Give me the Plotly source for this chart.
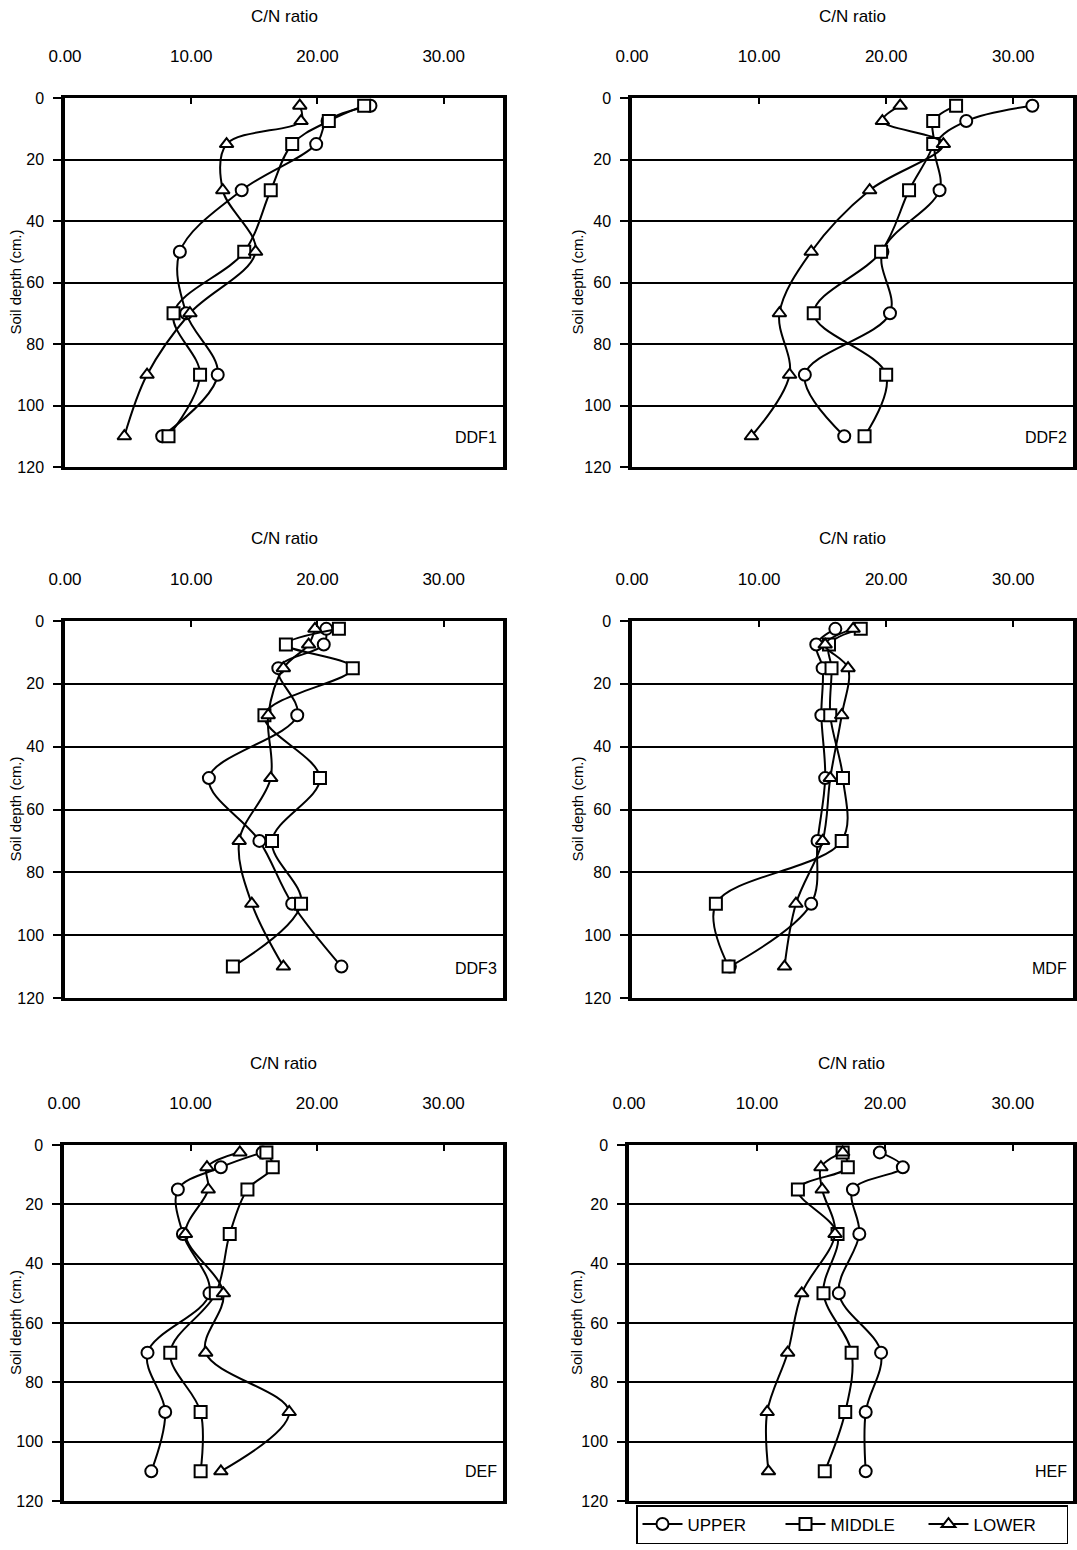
import plotly.graph_objects as go

W, H = 1077, 1550

depths = [2.5, 7.5, 15, 30, 50, 70, 90, 110]
panels = ["DDF1", "DDF2", "DDF3", "MDF", "DEF", "HEF"]

ddf1_upper = [24.2, 20.8, 19.9, 14.0, 9.1, 9.6, 12.1, 7.7]
ddf1_middle = [23.7, 20.9, 18.0, 16.3, 14.2, 8.6, 10.7, 8.2]
ddf1_lower = [18.6, 18.7, 12.8, 12.5, 15.1, 9.9, 6.5, 4.7]

ddf2_upper = [31.5, 26.3, 23.9, 24.2, 19.7, 20.3, 13.6, 16.7]
ddf2_middle = [25.5, 23.7, 23.7, 21.8, 19.6, 14.3, 20.0, 18.3]
ddf2_lower = [21.1, 19.7, 24.5, 18.7, 14.1, 11.6, 12.4, 9.4]

ddf3_upper = [20.7, 20.5, 16.9, 18.4, 11.4, 15.4, 18.0, 21.9]
ddf3_middle = [21.7, 17.5, 22.8, 15.8, 20.2, 16.4, 18.7, 13.3]
ddf3_lower = [19.8, 19.3, 17.3, 16.1, 16.3, 13.8, 14.8, 17.3]

mdf_upper = [16.0, 14.5, 15.0, 14.9, 15.2, 14.6, 14.1, 7.7]
mdf_middle = [18.0, 15.5, 15.7, 15.6, 16.6, 16.5, 6.6, 7.6]
mdf_lower = [17.4, 15.2, 17.0, 16.5, 15.6, 15.0, 12.9, 12.0]

def_upper = [15.7, 12.4, 9.0, 9.4, 11.5, 6.6, 8.0, 6.9]
def_middle = [16.0, 16.5, 14.5, 13.1, 12.0, 8.4, 10.8, 10.8]
def_lower = [13.9, 11.3, 11.4, 9.6, 12.6, 11.2, 17.8, 12.4]

hef_upper = [19.6, 21.4, 17.5, 18.0, 16.4, 19.7, 18.5, 18.5]
hef_middle = [16.7, 17.1, 13.2, 16.3, 15.2, 17.4, 16.9, 15.3]
hef_lower = [16.7, 15.0, 15.1, 16.1, 13.5, 12.4, 10.8, 10.9]

series_names = ["UPPER", "MIDDLE", "LOWER"]
symbols = ["circle", "square", "triangle-up"]
x_ticks = [0, 10, 20, 30]
x_ticklabels = ["0.00", "10.00", "20.00", "30.00"]
y_ticks = [0, 20, 40, 60, 80, 100, 120]

data = [
    (ddf1_upper, ddf1_middle, ddf1_lower),
    (ddf2_upper, ddf2_middle, ddf2_lower),
    (ddf3_upper, ddf3_middle, ddf3_lower),
    (mdf_upper, mdf_middle, mdf_lower),
    (def_upper, def_middle, def_lower),
    (hef_upper, hef_middle, hef_lower),
]

# pixel boxes (left, right, top, bottom)
boxes = [
    (65, 503, 98, 467),
    (632, 1073, 98, 467),
    (65, 503, 621, 998),
    (632, 1073, 621, 998),
    (64, 503, 1145, 1501),
    (629, 1073, 1145, 1501),
]
ytitle_x = [15, 577, 15, 577, 15, 576]

FONT = "Liberation Sans, Arial, sans-serif"
fig = go.Figure()
annotations = []

for i, (name, vals, box) in enumerate(zip(panels, data, boxes)):
    l, r, t, b = box
    xa = "x" if i == 0 else f"x{i+1}"
    ya = "y" if i == 0 else f"y{i+1}"
    for k, (sname, sym, v) in enumerate(zip(series_names, symbols, vals)):
        fig.add_trace(go.Scatter(
            x=v, y=depths, xaxis=xa, yaxis=ya,
            mode="lines+markers", name=sname,
            legendgroup=sname, showlegend=(i == 0),
            line=dict(color="black", width=2, shape="spline", smoothing=1.0),
            marker=dict(symbol=sym, size=12, color="white",
                        line=dict(color="black", width=2)),
        ))
    xdom = [l / W, r / W]
    ydom = [1 - b / H, 1 - t / H]
    xkey = "xaxis" if i == 0 else f"xaxis{i+1}"
    ykey = "yaxis" if i == 0 else f"yaxis{i+1}"
    fig.update_layout(**{
        xkey: dict(domain=xdom, anchor=ya, side="top", range=[0, 34.7],
                   tickvals=x_ticks, ticktext=x_ticklabels, ticks="inside",
                   ticklen=6, tickwidth=1.5, tickcolor="black",
                   showline=True, linewidth=2.5, linecolor="black", mirror=True,
                   showgrid=False, zeroline=False, ticklabelstandoff=26,
                   tickfont=dict(family=FONT, size=17, color="black")),
        ykey: dict(domain=ydom, anchor=xa, range=[120, 0],
                   tickvals=y_ticks, ticks="outside", ticklen=8, tickwidth=1.5,
                   tickcolor="black", showline=True, linewidth=3.5,
                   linecolor="black", mirror=True, showgrid=True,
                   gridcolor="black", gridwidth=1.8, zeroline=False,
                   ticklabelstandoff=6,
                   tickfont=dict(family=FONT, size=16, color="black")),
    })
    cx = (l + r) / 2 / W
    annotations.append(dict(text="C/N ratio", x=cx, y=1 - (t - 82) / H,
                            xref="paper", yref="paper", showarrow=False,
                            xanchor="center", yanchor="middle",
                            font=dict(family=FONT, size=17, color="black")))
    annotations.append(dict(text="Soil depth (cm.)", x=ytitle_x[i] / W,
                            y=1 - (t + b) / 2 / H, xref="paper", yref="paper",
                            showarrow=False, textangle=-90,
                            xanchor="center", yanchor="middle",
                            font=dict(family=FONT, size=15, color="black")))
    annotations.append(dict(text=name, x=(r - 4) / W, y=1 - (b - 30) / H,
                            xref="paper", yref="paper", showarrow=False,
                            xanchor="right", yanchor="middle",
                            font=dict(family=FONT, size=16, color="black")))

fig.update_layout(
    width=W, height=H,
    margin=dict(l=0, r=0, t=0, b=0, autoexpand=False),
    paper_bgcolor="white", plot_bgcolor="white",
    annotations=annotations,
    showlegend=True,
    legend=dict(orientation="h", x=636 / W, y=1 - 1505 / H, xanchor="left",
                yanchor="top", bordercolor="black", borderwidth=1.5,
                bgcolor="white", font=dict(family=FONT, size=17, color="black"),
                itemwidth=40, entrywidth=88, traceorder="normal"),
)

fig.write_html("out.html")
